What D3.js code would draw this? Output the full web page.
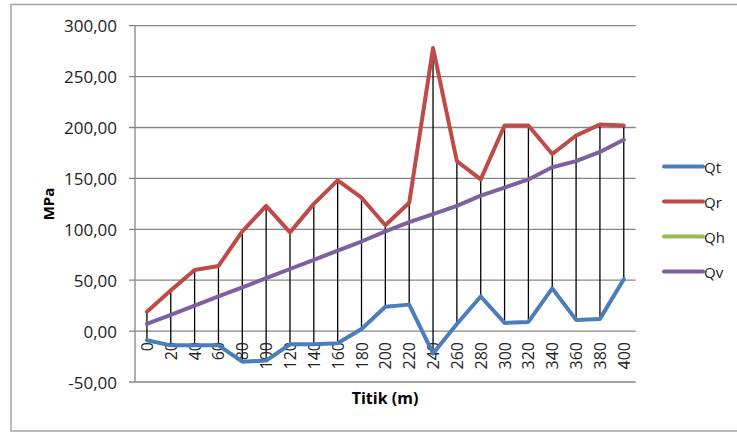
<!DOCTYPE html>
<html><head><meta charset="utf-8">
<script src="https://cdn.jsdelivr.net/npm/d3@7"></script>
<style>html,body{margin:0;padding:0;background:#fff;} svg{display:block;}</style>
</head><body>
<svg id="c" width="737" height="432"></svg>
<script>
const categories = ["0","20","40","60","80","100","120","140","160","180","200","220","240","260","280","300","320","340","360","380","400"];
const Qt = [-9,-14,-14,-14,-30,-29,-13,-13,-12,2,24,26,-22,7,34,8,9,42,11,12,51];
const Qr = [19,40,60,64,98,123,97,125,148,131,104,126,278,167,149,202,202,174,192,203,202];
const Qh = []; // not visible in the chart
const Qv = [7,16,25,34,43,52,61,70,79,88,98,107,115,123,133,141,149,161,167,176,188];
const yTicks = [-50,0,50,100,150,200,250,300];
const seriesNames = ["Qt","Qr","Qh","Qv"];
const seriesColors = ["#4A7EBB","#BE4B48","#98B954","#7D60A0"];

const svg = d3.select("#c");
const font = "'Open Sans', 'Liberation Sans', sans-serif";
// outer border
svg.append("rect").attr("x",11).attr("y",4.5).attr("width",740).attr("height",426.5)
  .attr("fill","none").attr("stroke","#a6a6a6").attr("stroke-width",1.5);

const x = d3.scaleBand().domain(categories).range([135,635.7]).padding(0);
const y = d3.scaleLinear().domain([-50,300]).range([382,25.7]);
const fmt = v => d3.format(".2f")(v).replace(".",",").replace("\u2212","-");

// gridlines
svg.append("g").selectAll("line").data(yTicks).join("line")
  .attr("x1",129).attr("x2",635.7).attr("y1",d=>y(d)).attr("y2",d=>y(d))
  .attr("stroke","#868686").attr("stroke-width",1.3);
// y axis line
svg.append("line").attr("x1",135).attr("x2",135).attr("y1",y(300)).attr("y2",y(-50))
  .attr("stroke","#868686").attr("stroke-width",1.3);
// y labels
svg.append("g").selectAll("text").data(yTicks).join("text")
  .attr("x",117).attr("y",d=>y(d)).attr("text-anchor","end").attr("dominant-baseline","central")
  .attr("font-family",font).attr("font-size",17).attr("fill","#222").text(fmt);

const cx = c => x(c) + x.bandwidth()/2;
// high-low lines
const all = [Qt,Qr,Qh,Qv];
svg.append("g").selectAll("line").data(categories).join("line")
  .attr("x1",cx).attr("x2",cx)
  .attr("y1",(c,i)=>y(d3.max(all.filter(s=>s.length).map(s=>s[i]))))
  .attr("y2",(c,i)=>y(d3.min(all.filter(s=>s.length).map(s=>s[i]))))
  .attr("stroke","#000").attr("stroke-width",1.3);

// x labels
svg.append("g").selectAll("text").data(categories).join("text")
  .attr("transform",c=>`translate(${cx(c)},342) rotate(-90)`)
  .attr("text-anchor","end").attr("dominant-baseline","central")
  .attr("font-family",font).attr("font-size",16).attr("fill","#222").text(d=>d);

// series lines
const line = d3.line().x((d,i)=>cx(categories[i])).y(d=>y(d));
all.forEach((s,k)=>{
  if(!s.length) return;
  svg.append("path").datum(s).attr("d",line).attr("fill","none")
    .attr("stroke",seriesColors[k]).attr("stroke-width",4)
    .attr("stroke-linejoin","round").attr("stroke-linecap","round");
});

// axis titles
svg.append("text").attr("transform","translate(48,204) rotate(-90)")
  .attr("text-anchor","middle").attr("dominant-baseline","central")
  .attr("font-family",font).attr("font-weight","bold").attr("font-size",15).attr("fill","#000").text("MPa");
svg.append("text").attr("x",385).attr("y",398).attr("text-anchor","middle").attr("dominant-baseline","central")
  .attr("font-family",font).attr("font-weight","bold").attr("font-size",16).attr("fill","#000").text("Titik (m)");

// legend
const lg = svg.append("g").selectAll("g").data(seriesNames).join("g")
  .attr("transform",(d,i)=>`translate(0,${166.5+i*35})`);
lg.append("line").attr("x1",664).attr("x2",703).attr("stroke",(d,i)=>seriesColors[i])
  .attr("stroke-width",4).attr("stroke-linecap","round");
lg.append("text").attr("x",704).attr("dominant-baseline","central")
  .attr("font-family",font).attr("font-size",15).attr("fill","#222").text(d=>d);
</script>
</body></html>
